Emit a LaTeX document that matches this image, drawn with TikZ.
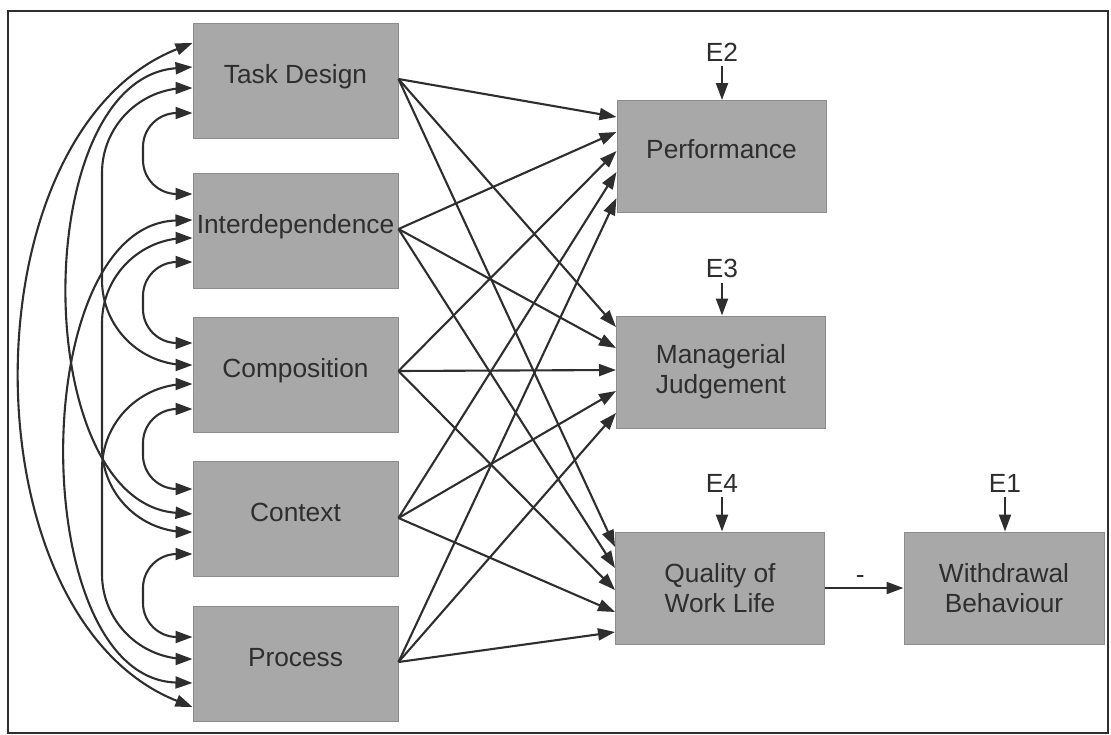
\documentclass[tikz,border=0pt]{standalone}
\usepackage{fontspec}
\setmainfont{Liberation Sans}
\usetikzlibrary{arrows.meta}
\definecolor{boxfill}{gray}{0.66}
\definecolor{boxedge}{gray}{0.55}
\definecolor{ink}{gray}{0.18}
\begin{document}
\begin{tikzpicture}[x=1pt,y=-1pt,
  every node/.style={text=ink, font=\fontsize{26.3}{30}\selectfont},
  lbox/.style={fill=boxfill, draw=boxedge, line width=1pt, minimum width=205pt, minimum height=115pt, inner sep=0pt, text height=19pt, text depth=14pt},
  rbox/.style={fill=boxfill, draw=boxedge, line width=1pt, minimum width=209pt, minimum height=112pt, inner sep=0pt, align=center},
  elabel/.style={inner sep=5pt},
  link/.style={draw=ink, line width=2.1pt, -{Triangle[length=17pt,width=12pt]}},
  corr/.style={draw=ink, line width=2.1pt, {Triangle[length=17pt,width=12pt]}-{Triangle[length=17pt,width=12pt]}},
]
\useasboundingbox (0,0) rectangle (1111,734);
\draw[ink, line width=2pt] (8,11) rectangle (1108,733);

% left column
\node[lbox] (td) at (295.5,81) {Task Design};
\node[lbox] (id) at (295.5,230.5) {Interdependence};
\node[lbox] (co) at (295.5,374.5) {Composition};
\node[lbox] (cx) at (295.5,519) {Context};
\node[lbox] (pr) at (295.5,663.5) {Process};

% right column
\node[rbox, text height=19pt, text depth=16pt] (pf) at (721.5,156.5) {Performance};
\node[rbox] (mj) at (721,372) {Managerial\\Judgement};
\node[rbox] (ql) at (720,588) {Quality of\\Work Life};
\node[rbox, minimum width=200pt] (wb) at (1004,588) {Withdrawal\\Behaviour};

% error terms
\node[elabel] (e2) at (722,52) {E2};
\node[elabel] (e3) at (722,268) {E3};
\node[elabel] (e4) at (722,483) {E4};
\node[elabel] (e1) at (1005,483) {E1};
\draw[link] (e2.south) -- (e2.south |- pf.north);
\draw[link] (e3.south) -- (e3.south |- mj.north);
\draw[link] (e4.south) -- (e4.south |- ql.north);
\draw[link] (e1.south) -- (e1.south |- wb.north);

% paths
\foreach \s/\sy/\a/\b/\c in {td/79/117/327/547, id/229/132/348/568, co/371/151/370/590, cx/518/172/391/612, pr/662/198/413/632}{
  \draw[link] (\s.east |- 0,\sy) -- (pf.west |- 0,\a);
  \draw[link] (\s.east |- 0,\sy) -- (mj.west |- 0,\b);
  \draw[link] (\s.east |- 0,\sy) -- (ql.west |- 0,\c);
}
\draw[link] (ql.east) -- node[above, inner sep=3pt, pos=0.45]{-} (ql.east -| wb.west);

% correlations
\draw[corr] (td.west |- 0,43) .. controls +(-228,90) and +(-228,-90) .. (pr.west |- 0,707);
\draw[corr] (td.west |- 0,67) .. controls +(-164,12) and +(-164,-12) .. (cx.west |- 0,514);
\draw[corr] (id.west |- 0,220) .. controls +(-167,5) and +(-167,-5) .. (pr.west |- 0,683);
\draw[corr, rounded corners=85pt] (td.west |- 0,88) -- (102,88) -- (102,365) -- (co.west |- 0,365);
\draw[corr, rounded corners=85pt] (id.west |- 0,238) -- (102,238) -- (102,532) -- (cx.west |- 0,532);
\draw[corr, rounded corners=85pt] (co.west |- 0,384) -- (102,384) -- (102,659) -- (pr.west |- 0,659);
\draw[corr, rounded corners=34pt] (td.west |- 0,113) -- (143,113) -- (143,194) -- (id.west |- 0,194);
\draw[corr, rounded corners=34pt] (id.west |- 0,262) -- (143,262) -- (143,343) -- (co.west |- 0,343);
\draw[corr, rounded corners=34pt] (co.west |- 0,409) -- (143,409) -- (143,489) -- (cx.west |- 0,489);
\draw[corr, rounded corners=34pt] (cx.west |- 0,554) -- (143,554) -- (143,637) -- (pr.west |- 0,637);
\end{tikzpicture}
\end{document}
